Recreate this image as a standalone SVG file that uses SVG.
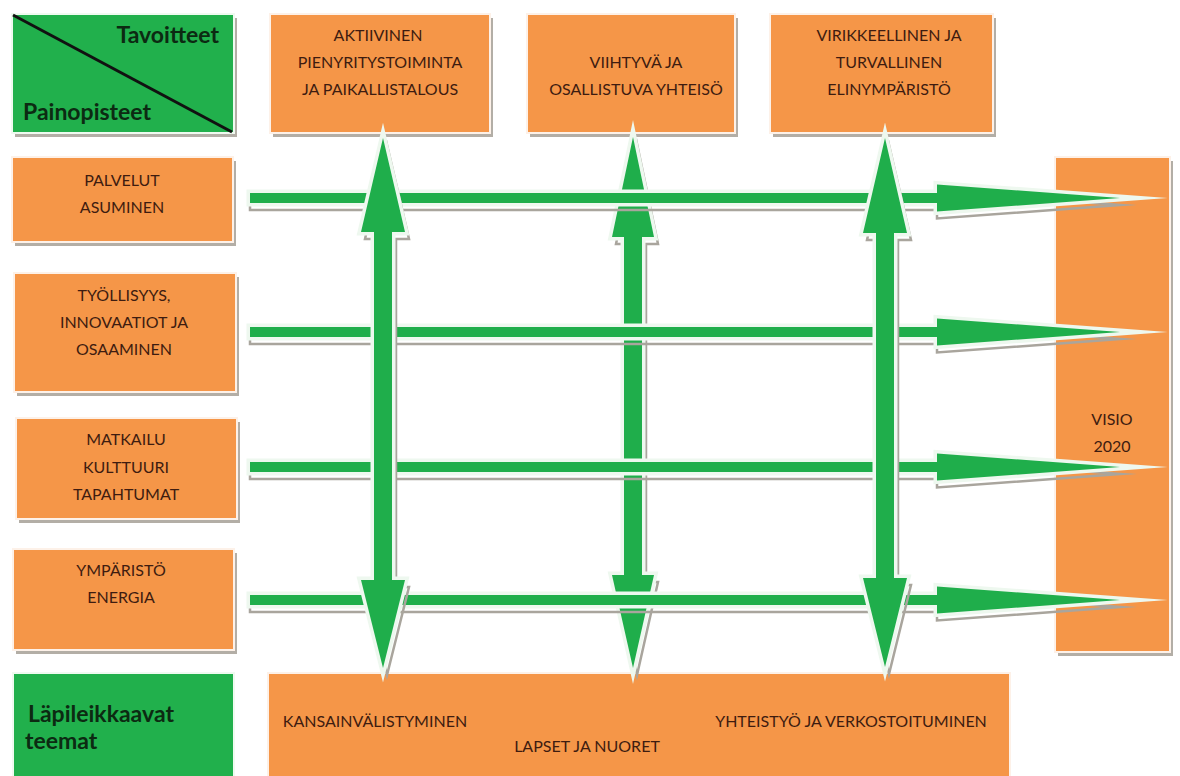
<svg xmlns="http://www.w3.org/2000/svg" width="1180" height="776" viewBox="0 0 1180 776">
<style>
.sh{fill:#b3aea6}
.or{fill:#f59648;stroke:#fdf1e8;stroke-width:2}
.gr{fill:#21b04c;stroke:#effaf0;stroke-width:2}
.t{font-family:Lato,"Liberation Sans",sans-serif;font-size:16px;fill:#3e1c10;text-anchor:middle}
.h{font-family:Lato,"Liberation Sans",sans-serif;font-size:23px;font-weight:bold;fill:#0c2a12}
.ar{fill:#1fae4b;stroke:#eef8ef;stroke-width:7;stroke-linejoin:miter;stroke-miterlimit:40;paint-order:stroke}
.as{fill:none;stroke:#a9a59d;stroke-width:2.5;stroke-linejoin:miter;stroke-miterlimit:40}
</style>
<rect width="1180" height="776" fill="#ffffff"/>
<g id="hdr-top">
<rect class="sh" x="15" y="18" width="222" height="119"/>
<rect class="gr" x="12" y="14" width="222" height="119"/>
<line x1="13" y1="15" x2="232" y2="132" stroke="#111" stroke-width="3"/>
<text class="h" x="219" y="43" text-anchor="end">Tavoitteet</text>
<text class="h" x="23" y="120">Painopisteet</text>
</g>
<g id="tav1">
<rect class="sh" x="273" y="18" width="220" height="119"/>
<rect class="or" x="270" y="14" width="220" height="119"/>
<text class="t" x="378" y="41">AKTIIVINEN</text>
<text class="t" x="380" y="68">PIENYRITYSTOIMINTA</text>
<text class="t" x="380" y="95">JA PAIKALLISTALOUS</text>
</g>
<g id="tav2">
<rect class="sh" x="530" y="18" width="208" height="119"/>
<rect class="or" x="527" y="14" width="208" height="119"/>
<text class="t" x="636" y="68">VIIHTYVÄ JA</text>
<text class="t" x="636" y="95">OSALLISTUVA YHTEISÖ</text>
</g>
<g id="tav3">
<rect class="sh" x="773" y="18" width="223" height="119"/>
<rect class="or" x="770" y="14" width="223" height="119"/>
<text class="t" x="889" y="41">VIRIKKEELLINEN JA</text>
<text class="t" x="889" y="68">TURVALLINEN</text>
<text class="t" x="889" y="95">ELINYMPÄRISTÖ</text>
</g>
<g id="pain1">
<rect class="sh" x="15" y="161" width="221" height="85"/>
<rect class="or" x="12" y="157" width="221" height="85"/>
<text class="t" x="122" y="186">PALVELUT</text>
<text class="t" x="122" y="213">ASUMINEN</text>
</g>
<g id="pain2">
<rect class="sh" x="17" y="277" width="222" height="119"/>
<rect class="or" x="14" y="273" width="222" height="119"/>
<text class="t" x="124" y="301">TYÖLLISYYS,</text>
<text class="t" x="124" y="328">INNOVAATIOT JA</text>
<text class="t" x="124" y="355">OSAAMINEN</text>
</g>
<g id="pain3">
<rect class="sh" x="19" y="422" width="221" height="101"/>
<rect class="or" x="16" y="418" width="221" height="101"/>
<text class="t" x="126" y="445">MATKAILU</text>
<text class="t" x="126" y="473">KULTTUURI</text>
<text class="t" x="126" y="500">TAPAHTUMAT</text>
</g>
<g id="pain4">
<rect class="sh" x="16" y="553" width="221" height="101"/>
<rect class="or" x="13" y="549" width="221" height="101"/>
<text class="t" x="121" y="576">YMPÄRISTÖ</text>
<text class="t" x="121" y="603">ENERGIA</text>
</g>
<g id="hdr-bottom">
<rect class="gr" x="13" y="673" width="221" height="104"/>
<text class="h" x="28" y="722">Läpileikkaavat</text>
<text class="h" x="25" y="749">teemat</text>
</g>
<g id="teemat">
<rect class="or" x="268" y="673" width="742" height="104"/>
<text class="t" x="375" y="727">KANSAINVÄLISTYMINEN</text>
<text class="t" x="587" y="752">LAPSET JA NUORET</text>
<text class="t" x="851" y="727">YHTEISTYÖ JA VERKOSTOITUMINEN</text>
</g>
<g id="visio">
<rect class="sh" x="1058" y="161" width="115" height="495"/>
<rect class="or" x="1055" y="157" width="115" height="495"/>
<text class="t" x="1112" y="425">VISIO</text>
<text class="t" x="1112" y="452">2020</text>
</g>
<g id="connectors">
<g id="v2">
<path class="as" transform="translate(4,7)" d="M633,137 L654,237 L642,237 L642,575 L654,575 L633,668 L612,575 L624,575 L624,237 L612,237 Z"/>
<path class="ar" d="M633,137 L654,237 L642,237 L642,575 L654,575 L633,668 L612,575 L624,575 L624,237 L612,237 Z"/>
</g>
<g id="h1">
<path class="as" transform="translate(0,7)" d="M250,193 L937,193 L937,184.5 L1120,198 L937,211.5 L937,203 L250,203 Z"/>
<path class="ar" d="M250,193 L937,193 L937,184.5 L1120,198 L937,211.5 L937,203 L250,203 Z"/>
</g>
<g id="h2">
<path class="as" transform="translate(0,7)" d="M250,327 L937,327 L937,318.5 L1120,332 L937,345.5 L937,337 L250,337 Z"/>
<path class="ar" d="M250,327 L937,327 L937,318.5 L1120,332 L937,345.5 L937,337 L250,337 Z"/>
</g>
<g id="h3">
<path class="as" transform="translate(0,7)" d="M250,462 L937,462 L937,453.5 L1120,467 L937,480.5 L937,472 L250,472 Z"/>
<path class="ar" d="M250,462 L937,462 L937,453.5 L1120,467 L937,480.5 L937,472 L250,472 Z"/>
</g>
<g id="h4">
<path class="as" transform="translate(0,7)" d="M250,595 L937,595 L937,586.5 L1120,600 L937,613.5 L937,605 L250,605 Z"/>
<path class="ar" d="M250,595 L937,595 L937,586.5 L1120,600 L937,613.5 L937,605 L250,605 Z"/>
</g>
<g id="v1">
<path class="as" transform="translate(4,7)" d="M383,138 L405,232 L392,232 L392,580 L405,580 L383,668 L361,580 L374,580 L374,232 L361,232 Z"/>
<path class="ar" d="M383,138 L405,232 L392,232 L392,580 L405,580 L383,668 L361,580 L374,580 L374,232 L361,232 Z"/>
</g>
<g id="v3">
<path class="as" transform="translate(4,7)" d="M885,138 L907,233 L894,233 L894,578 L907,578 L885,667 L863,578 L876,578 L876,233 L863,233 Z"/>
<path class="ar" d="M885,138 L907,233 L894,233 L894,578 L907,578 L885,667 L863,578 L876,578 L876,233 L863,233 Z"/>
</g>
</g>
</svg>
